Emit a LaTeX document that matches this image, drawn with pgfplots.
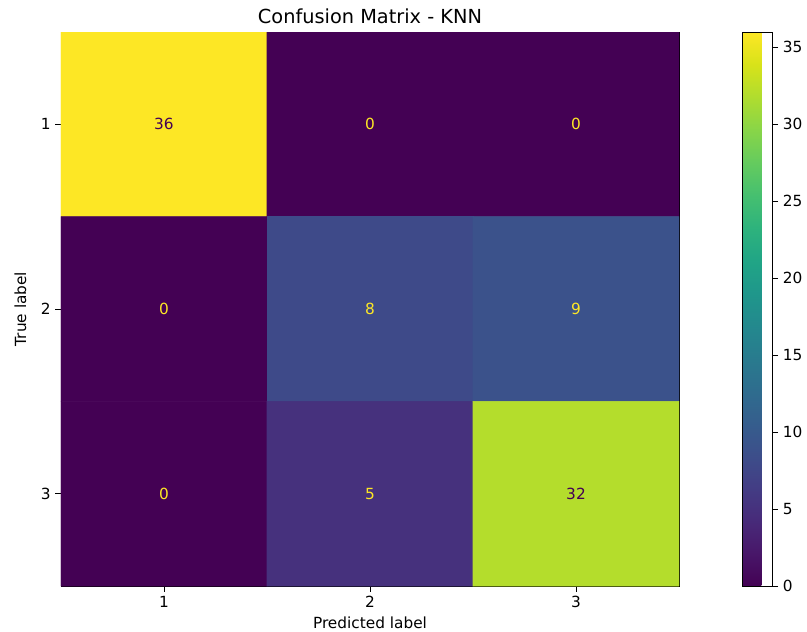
\documentclass[border=0pt]{standalone}
\usepackage{pgfplots}
\pgfplotsset{compat=1.18}
\usepackage{fontspec}
\setmainfont{DejaVu Sans}
\definecolor{vlow}{HTML}{440154}
\definecolor{vhigh}{HTML}{FDE725}
\pgfplotstableread{
x y c
1 1 36
2 1 0
3 1 0
1 2 0
2 2 8
3 2 9
1 3 0
2 3 5
3 3 32
}\cmtable
\pgfplotstableread{
x y c
1 1 36
3 3 32
}\cmbright
\pgfplotstableread{
x y c
2 1 0
3 1 0
1 2 0
2 2 8
3 2 9
1 3 0
2 3 5
}\cmdark
\begin{document}
\begin{tikzpicture}
\useasboundingbox (0,0) rectangle (605.25pt,474pt);
\begin{axis}[
  at={(45.75pt,34.5pt)}, anchor=south west,
  scale only axis, width=463.5pt, height=415.5pt,
  xmin=0.5, xmax=3.5, ymin=0.5, ymax=3.5, y dir=reverse,
  xtick={1,2,3}, ytick={1,2,3},
  tick align=outside, tick pos=left, major tick length=4.3pt,
  tick style={black, line width=0.6pt},
  axis line style={black, line width=0.6pt},
  /pgf/number format/assume math mode=true,
  tick label style={font=\fontsize{11.5}{13}\selectfont},
  label style={font=\fontsize{11.5}{13}\selectfont},
  title style={font=\fontsize{14.5}{17}\selectfont, yshift=-3pt},
  ylabel style={xshift=0pt, yshift=4pt},
  title={Confusion Matrix - KNN},
  xlabel={Predicted label}, ylabel={True label},
  colormap/viridis, point meta min=0, point meta max=36,
  colorbar,
  colorbar style={
    at={(parent axis.north east)}, anchor=north west, xshift=39pt,
    width=22.5pt, scale only axis,
    ytick={0,5,...,35}, ytick pos=right, yticklabel pos=right,
    tick align=outside, major tick length=4.3pt,
    tick style={black, line width=0.6pt},
    axis line style={black, line width=0.6pt},
    /pgf/number format/assume math mode=true,
    yticklabel style={font=\fontsize{11.5}{13}\selectfont},
  },
]
\addplot[matrix plot*, mesh/cols=3, point meta=explicit] table[meta=c] {\cmtable};
\addplot[draw=none, mark=none, point meta=explicit symbolic,
  nodes near coords,
  nodes near coords style={anchor=center, text=vhigh, font=\fontsize{11.5}{13}\selectfont}]
  table[meta=c] {\cmdark};
\addplot[draw=none, mark=none, point meta=explicit symbolic,
  nodes near coords,
  nodes near coords style={anchor=center, text=vlow, font=\fontsize{11.5}{13}\selectfont}]
  table[meta=c] {\cmbright};
\end{axis}
\end{tikzpicture}
\end{document}
